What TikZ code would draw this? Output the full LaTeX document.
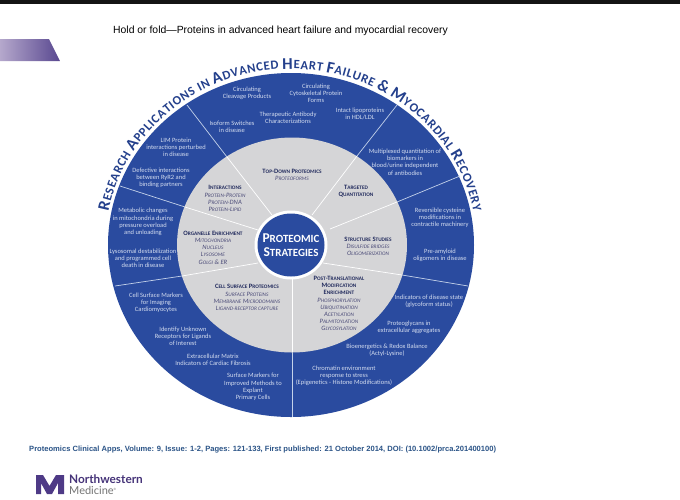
\documentclass[tikz,border=0pt]{standalone}
\usepackage{fontspec}
\usetikzlibrary{decorations.text}
\setmainfont{Carlito}
\newfontfamily\arialf{Liberation Sans}
\newfontfamily\logof{Lato}
\definecolor{discblue}{HTML}{2A4B9F}
\definecolor{ringgrey}{HTML}{D5D5D7}
\definecolor{spoke}{HTML}{C4D2EA}
\definecolor{paletxt}{HTML}{D3DCEF}
\definecolor{navy}{HTML}{232C5E}
\definecolor{itnavy}{HTML}{4B4B78}
\definecolor{archead}{HTML}{24408C}
\definecolor{citeblue}{HTML}{2B5487}
\definecolor{logopurple}{HTML}{4E3A86}
\definecolor{lilac}{HTML}{B5A8CC}
\definecolor{deeplilac}{HTML}{594890}
\def\Ca{\fontsize{16.5}{16}\selectfont\bfseries\color{archead}}
\def\Lo{\fontsize{12.6}{16}\selectfont\bfseries\color{archead}}
\newcommand\sm[1]{{\fontsize{5.3}{7.2}\selectfont #1}}
\newcommand\hd[1]{{\bfseries\color{navy}\fontsize{6.6}{7.2}\selectfont #1}}
\newcommand\itx[1]{{\itshape\fontsize{6.6}{7.2}\selectfont #1}}
\newcommand\cm[1]{{\fontsize{11}{14}\selectfont #1}}
\tikzset{
  bt/.style={align=center,text=paletxt,inner sep=0pt,font=\fontsize{6.5}{7.2}\selectfont},
  gt/.style={align=center,text=itnavy,inner sep=0pt,font=\fontsize{6.6}{7.2}\selectfont},
  spokeline/.style={spoke,line width=0.7pt},
  innerline/.style={white,line width=0.7pt},
}
\begin{document}
\begin{tikzpicture}[x=1pt,y=-1pt]
\useasboundingbox (0,0) rectangle (680,499);
\fill[white] (0,0) rectangle (680,499);
\fill[black!92] (0,0) rectangle (680,4);
\shade[left color=lilac,right color=deeplilac] (0,39) -- (49,39) -- (60,61) -- (0,61) -- cycle;
\node[anchor=west,inner sep=0pt,font=\arialf\fontsize{10.4}{12}\selectfont] (title) at (113,30.5) {Hold or fold—Proteins in advanced heart failure and myocardial recovery};
% disc
\fill[discblue] (291,245) ellipse [x radius=183pt,y radius=172pt];
\draw[spokeline] (187,105) -- (227,157);
\draw[spokeline] (120,186) -- (185,207);
\draw[spokeline] (115,286) -- (182,276);
\draw[spokeline] (292,417) -- (292,352);
\draw[spokeline] (468,286) -- (402,275);
\draw[spokeline] (460,176) -- (397,202);
\draw[spokeline] (397,105) -- (357,156);
\fill[ringgrey] (292,245) ellipse [x radius=115pt,y radius=107.5pt];
\draw[innerline] (227,157) -- (272,215);
\draw[innerline] (185,207) -- (258,230);
\draw[innerline] (182,276) -- (258,263);
\draw[innerline] (292,352) -- (292,277);
\draw[innerline] (402,275) -- (323,263);
\draw[innerline] (397,202) -- (330,229);
\draw[innerline] (357,156) -- (312,215);
\fill[white] (291,245) ellipse [x radius=36.5pt,y radius=34.5pt];
\fill[discblue] (291,245) ellipse [x radius=33.5pt,y radius=31.5pt];
\node[align=center,text=white,inner sep=0pt,font=\bfseries\fontsize{13.5}{14}\selectfont] (core) at (291,245) {P\cm{ROTEOMIC}\\S\cm{TRATEGIES}};
% arc heading
\path[decorate,decoration={text along path,text align=fit to path,
  text={|\Ca|R|||\Lo|ESEARCH|| |\Ca|A|||\Lo|PPLICATIONS IN|| |\Ca|A|||\Lo|DVANCED|| |\Ca|H|||\Lo|EART|| |\Ca|F|||\Lo|AILURE|| |\Ca|{\&}|| |\Ca|M|||\Lo|YOCARDIAL|| |\Ca|R|||\Lo|ECOVERY||}}]
  (291,245) ++(169:186pt and 176pt) arc[start angle=169,end angle=11,x radius=186pt,y radius=176pt];
% blue-band labels
\node[bt] (a1) at (247,93) {Circulating\\Cleavage Products};
\node[bt] (a2) at (316,93.5) {Circulating\\Cytoskeletal Protein\\Forms};
\node[bt] (a3) at (232,127) {Isoform Switches\\in disease};
\node[bt] (a4) at (288,118) {Therapeutic Antibody\\Characterizations};
\node[bt] (a5) at (360,114) {Intact lipoproteins\\in HDL/LDL};
\node[bt] (b1) at (176,147) {LIM Protein\\interactions perturbed\\in disease};
\node[bt] (b2) at (161,178) {Defective interactions\\between RyR2 and\\binding partners};
\node[bt] (c1) at (143,222) {Metabolic changes\\in mitochondria during\\pressure overload\\and unloading};
\node[bt] (c2) at (143,258.5) {Lysosomal destabilization\\and programmed cell\\death in disease};
\node[bt] (d1) at (156,302.5) {Cell Surface Markers\\for Imaging\\Cardiomyocytes};
\node[bt] (d2) at (183,336.5) {Identify Unknown\\Receptors for Ligands\\of Interest};
\node[bt] (d3) at (213,360) {Extracellular Matrix\\Indicators of Cardiac Fibrosis};
\node[bt] (d4) at (253,387) {Surface Markers for\\Improved Methods to\\Explant\\Primary Cells};
\node[bt] (e1) at (344,375.5) {Chromatin environment\\response to stress\\(Epigenetics - Histone Modifications)};
\node[bt] (e2) at (387,350) {Bioenergetics \& Redox Balance\\(Actyl-Lysine)};
\node[bt] (e3) at (409,327) {Proteoglycans in\\extracellular aggregates};
\node[bt] (e4) at (429,301) {Indicators of disease state\\(glycoform status)};
\node[bt] (f1) at (440,255) {Pre-amyloid\\oligomers in disease};
\node[bt] (f2) at (440,217.5) {Reversible cysteine\\modifications in\\contractile machinery};
\node[bt] (g1) at (405,162) {Multiplexed quantitation of\\biomarkers in\\blood/urine independent\\of antibodies};
% grey-band labels
\node[gt] (h1) at (292,174.5) {\hd{T\sm{OP}-D\sm{OWN} P\sm{ROTEOMICS}}\\\itx{P\sm{ROTEOFORMS}}};
\node[gt] (h2) at (225,198.5) {\hd{I\sm{NTERACTIONS}}\\\itx{P\sm{ROTEIN}-P\sm{ROTEIN}}\\\itx{P\sm{ROTEIN}-DNA}\\\itx{P\sm{ROTEIN}-L\sm{IPID}}};
\node[gt] (h3) at (356,191.5) {\hd{T\sm{ARGETED}}\\\hd{Q\sm{UANTITATION}}};
\node[gt] (h4) at (213,247.5) {\hd{O\sm{RGANELLE} E\sm{NRICHMENT}}\\\itx{M\sm{ITOCHONDRIA}}\\\itx{N\sm{UCLEUS}}\\\itx{L\sm{YSOSOME}}\\\itx{G\sm{OLGI} \& ER}};
\node[gt] (h5) at (368,246.5) {\hd{S\sm{TRUCTURE} S\sm{TUDIES}}\\\itx{D\sm{ISULFIDE BRIDGES}}\\\itx{O\sm{LIGOMERIZATION}}};
\node[gt] (h6) at (247,297.5) {\hd{C\sm{ELL} S\sm{URFACE} P\sm{ROTEOMICS}}\\\itx{S\sm{URFACE} P\sm{ROTEINS}}\\\itx{M\sm{EMBRANE} M\sm{ICRODOMAINS}}\\\itx{L\sm{IGAND-RECEPTOR CAPTURE}}};
\node[gt] (h7) at (339,303.5) {\hd{P\sm{OST}-T\sm{RANSLATIONAL}}\\\hd{M\sm{ODIFICATION}}\\\hd{E\sm{NRICHMENT}}\\\itx{P\sm{HOSPHORYLATION}}\\\itx{U\sm{BIQUITINATION}}\\\itx{A\sm{CETYLATION}}\\\itx{P\sm{ALMITOYLATION}}\\\itx{G\sm{LYCOSYLATION}}};
% citation
\node[anchor=west,inner sep=0pt,text=citeblue,font=\arialf\bfseries\fontsize{7.58}{9}\selectfont] (cite) at (29,450) {Proteomics Clinical Apps, Volume: 9, Issue: 1-2, Pages: 121-133, First published: 21 October 2014, DOI: (10.1002/prca.201400100)};
% logo
\fill[logopurple] (36,475) -- (43,475) -- (49.5,486) -- (56,475) -- (64,475) -- (64,494) -- (58,494) -- (58,483) -- (52,494) -- (47,494) -- (41,483) -- (41,494) -- (36,494) -- cycle;
\node[anchor=west,inner sep=0pt,text=logopurple!90!black,font=\logof\bfseries\fontsize{11.8}{12}\selectfont] (nw) at (69,479.5) {Northwestern};
\node[anchor=west,inner sep=0pt,text=black!55,font=\logof\fontsize{11}{12}\selectfont] (med) at (69,490.5) {Medicine\textsuperscript{\fontsize{3}{3}\selectfont ®}};
\end{tikzpicture}
\end{document}
